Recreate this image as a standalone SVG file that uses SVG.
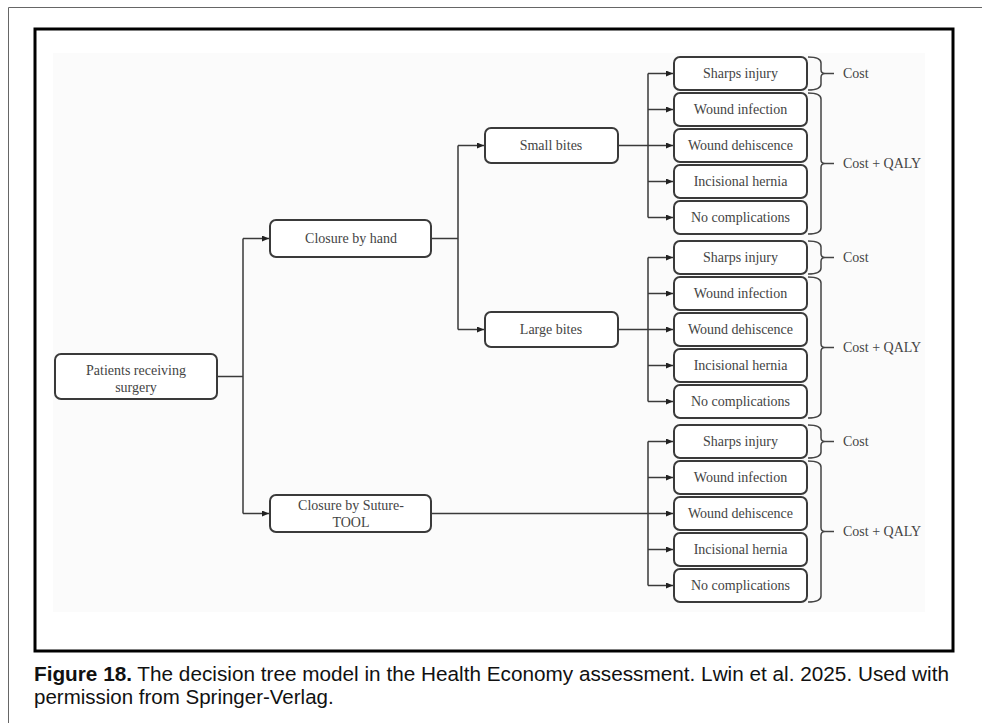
<svg xmlns="http://www.w3.org/2000/svg" width="982" height="723" viewBox="0 0 982 723">
<defs>
<style>
.box{fill:#ffffff;stroke:#3a3a3a;stroke-width:2}
.lbl{font-family:"Liberation Serif","Times New Roman",serif;font-size:14px;fill:#444;text-anchor:middle}
.side{font-family:"Liberation Serif","Times New Roman",serif;font-size:14px;fill:#444}
.con{fill:none;stroke:#3a3a3a;stroke-width:1.5}
.arr{fill:none;stroke:#3a3a3a;stroke-width:1.5;marker-end:url(#ah)}
.brace{fill:none;stroke:#444;stroke-width:1.5}
.cap{font-family:"Liberation Sans",Arial,sans-serif;font-size:20.5px;fill:#111}
</style>
<marker id="ah" markerUnits="userSpaceOnUse" markerWidth="7" markerHeight="6" refX="7" refY="3" orient="auto">
<path d="M0,0 L7,3 L0,6 z" fill="#222"/>
</marker>
</defs>
<rect x="0" y="0" width="982" height="723" fill="#ffffff"/>
<path d="M8.5,723 V7.5 H982" fill="none" stroke="#666" stroke-width="1"/>
<rect x="53" y="53" width="872" height="559" fill="#fbfbfb"/>
<rect x="35" y="29" width="918" height="622" fill="none" stroke="#000" stroke-width="3"/>

<g id="connectors">
<path class="con" d="M217,376.5 H243 M243,238.5 V513.5"/>
<path class="arr" d="M243,238.5 H269"/>
<path class="arr" d="M243,513.5 H269"/>
<path class="con" d="M431,238.5 H458 M458,145.5 V329.5"/>
<path class="arr" d="M458,145.5 H484"/>
<path class="arr" d="M458,329.5 H484"/>
<path class="con" d="M618,145.5 H648 M648,73.5 V217.5"/>
<path class="arr" d="M648,73.5 H673"/>
<path class="arr" d="M648,109.5 H673"/>
<path class="arr" d="M648,145.5 H673"/>
<path class="arr" d="M648,181.5 H673"/>
<path class="arr" d="M648,217.5 H673"/>
<path class="con" d="M618,329.5 H648 M648,257.5 V401.5"/>
<path class="arr" d="M648,257.5 H673"/>
<path class="arr" d="M648,293.5 H673"/>
<path class="arr" d="M648,329.5 H673"/>
<path class="arr" d="M648,365.5 H673"/>
<path class="arr" d="M648,401.5 H673"/>
<path class="con" d="M431,513.5 H648 M648,441.5 V585.5"/>
<path class="arr" d="M648,441.5 H673"/>
<path class="arr" d="M648,477.5 H673"/>
<path class="arr" d="M648,513.5 H673"/>
<path class="arr" d="M648,549.5 H673"/>
<path class="arr" d="M648,585.5 H673"/>
</g>

<g id="patients"><rect class="box" x="55" y="354" width="162" height="45" rx="6"/>
<text class="lbl" x="136" y="375">Patients receiving</text><text class="lbl" x="136" y="392">surgery</text></g>
<g id="closure-hand"><rect class="box" x="270" y="220" width="161" height="37" rx="6"/>
<text class="lbl" x="351" y="243">Closure by hand</text></g>
<g id="closure-tool"><rect class="box" x="270" y="495" width="161" height="37" rx="6"/>
<text class="lbl" x="351" y="510">Closure by Suture-</text><text class="lbl" x="351" y="527">TOOL</text></g>
<g id="small-bites"><rect class="box" x="485" y="128" width="133" height="35" rx="6"/>
<text class="lbl" x="551" y="150">Small bites</text></g>
<g id="large-bites"><rect class="box" x="485" y="312" width="133" height="35" rx="6"/>
<text class="lbl" x="551" y="334">Large bites</text></g>

<g id="g1-sharps"><rect class="box" x="674" y="57" width="133" height="33" rx="6"/><text class="lbl" x="740.5" y="78">Sharps injury</text></g>
<g id="g1-infection"><rect class="box" x="674" y="93" width="133" height="33" rx="6"/><text class="lbl" x="740.5" y="114">Wound infection</text></g>
<g id="g1-dehiscence"><rect class="box" x="674" y="129" width="133" height="33" rx="6"/><text class="lbl" x="740.5" y="150">Wound dehiscence</text></g>
<g id="g1-hernia"><rect class="box" x="674" y="165" width="133" height="33" rx="6"/><text class="lbl" x="740.5" y="186">Incisional hernia</text></g>
<g id="g1-none"><rect class="box" x="674" y="201" width="133" height="33" rx="6"/><text class="lbl" x="740.5" y="222">No complications</text></g>

<g id="g2-sharps"><rect class="box" x="674" y="241" width="133" height="33" rx="6"/><text class="lbl" x="740.5" y="262">Sharps injury</text></g>
<g id="g2-infection"><rect class="box" x="674" y="277" width="133" height="33" rx="6"/><text class="lbl" x="740.5" y="298">Wound infection</text></g>
<g id="g2-dehiscence"><rect class="box" x="674" y="313" width="133" height="33" rx="6"/><text class="lbl" x="740.5" y="334">Wound dehiscence</text></g>
<g id="g2-hernia"><rect class="box" x="674" y="349" width="133" height="33" rx="6"/><text class="lbl" x="740.5" y="370">Incisional hernia</text></g>
<g id="g2-none"><rect class="box" x="674" y="385" width="133" height="33" rx="6"/><text class="lbl" x="740.5" y="406">No complications</text></g>

<g id="g3-sharps"><rect class="box" x="674" y="425" width="133" height="33" rx="6"/><text class="lbl" x="740.5" y="446">Sharps injury</text></g>
<g id="g3-infection"><rect class="box" x="674" y="461" width="133" height="33" rx="6"/><text class="lbl" x="740.5" y="482">Wound infection</text></g>
<g id="g3-dehiscence"><rect class="box" x="674" y="497" width="133" height="33" rx="6"/><text class="lbl" x="740.5" y="518">Wound dehiscence</text></g>
<g id="g3-hernia"><rect class="box" x="674" y="533" width="133" height="33" rx="6"/><text class="lbl" x="740.5" y="554">Incisional hernia</text></g>
<g id="g3-none"><rect class="box" x="674" y="569" width="133" height="33" rx="6"/><text class="lbl" x="740.5" y="590">No complications</text></g>

<g id="g1-cost"><path class="brace" d="M808,57 Q821,57 821,63 V69.5 Q821,73.5 825,73.5 Q821,73.5 821,77.5 V84 Q821,90 808,90 M825,73.5 H834"/><text class="side" x="843" y="78">Cost</text></g>
<g id="g1-qaly"><path class="brace" d="M808,93 Q821,93 821,99 V159.5 Q821,163.5 825,163.5 Q821,163.5 821,167.5 V228 Q821,234 808,234 M825,163.5 H834"/><text class="side" x="843" y="168">Cost + QALY</text></g>
<g id="g2-cost"><path class="brace" d="M808,241 Q821,241 821,247 V253.5 Q821,257.5 825,257.5 Q821,257.5 821,261.5 V268 Q821,274 808,274 M825,257.5 H834"/><text class="side" x="843" y="262">Cost</text></g>
<g id="g2-qaly"><path class="brace" d="M808,277 Q821,277 821,283 V343.5 Q821,347.5 825,347.5 Q821,347.5 821,351.5 V412 Q821,418 808,418 M825,347.5 H834"/><text class="side" x="843" y="352">Cost + QALY</text></g>
<g id="g3-cost"><path class="brace" d="M808,425 Q821,425 821,431 V437.5 Q821,441.5 825,441.5 Q821,441.5 821,445.5 V452 Q821,458 808,458 M825,441.5 H834"/><text class="side" x="843" y="446">Cost</text></g>
<g id="g3-qaly"><path class="brace" d="M808,461 Q821,461 821,467 V527.5 Q821,531.5 825,531.5 Q821,531.5 821,535.5 V596 Q821,602 808,602 M825,531.5 H834"/><text class="side" x="843" y="536">Cost + QALY</text></g>

<g id="caption">
<text class="cap" x="34" y="681" textLength="915" lengthAdjust="spacingAndGlyphs"><tspan font-weight="bold">Figure 18.</tspan> The decision tree model in the Health Economy assessment. Lwin et al. 2025. Used with</text>
<text class="cap" x="34" y="704">permission from Springer-Verlag.</text>
</g>
</svg>
